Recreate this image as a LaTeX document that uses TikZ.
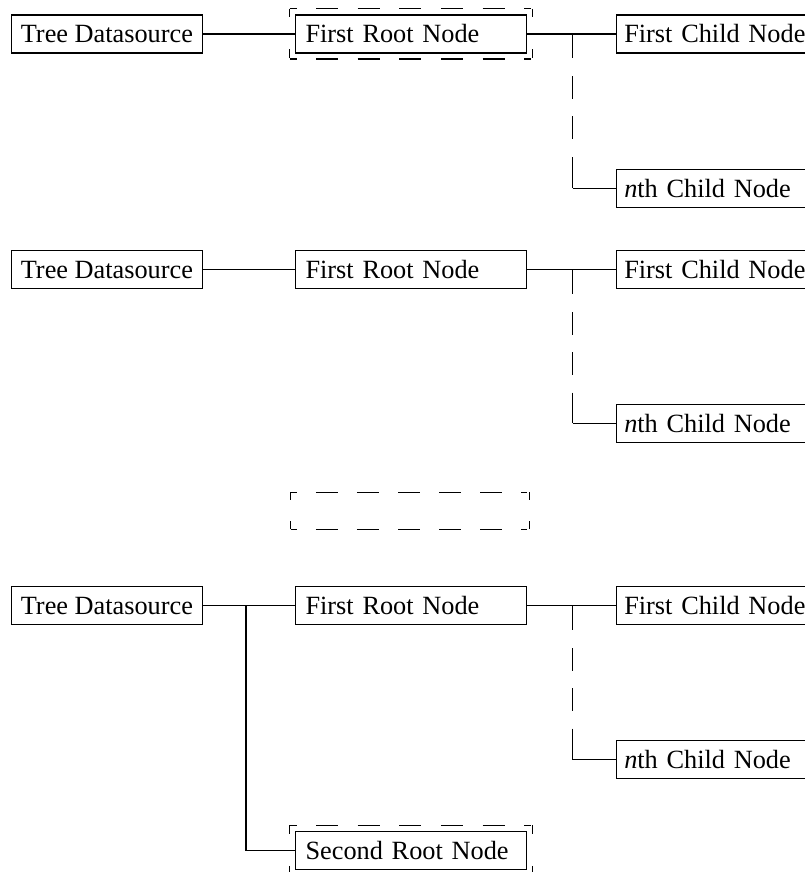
\documentclass[tikz,border=0pt]{standalone}
\usepackage{fontspec}
\setmainfont{Liberation Serif}
\usetikzlibrary{calc}
\begin{document}
\begin{tikzpicture}[x=1pt,y=-1pt,
  every node/.style={font=\fontsize{26.3}{30}\selectfont},
  box/.style={draw,line width=1.1pt,minimum height=38pt,inner ysep=0pt,inner xsep=8pt,anchor=west,text height=18pt,text depth=0pt},
  tdbox/.style={box,inner xsep=9.3pt},
  rootbox/.style={box,inner xsep=10pt,text width=210.5pt,align=left},
  childbox/.style={box,inner xsep=8pt,text width=185pt,align=left},
  conn/.style={line width=1.1pt},
  vjunc/.style={line width=1.1pt,dash pattern=on 24.5pt off 18pt on 22.5pt off 17.5pt on 22.5pt off 18pt on 100pt off 10pt},
  hframe/.style={line width=1.1pt,dash pattern=on 7pt off 19.6pt on 22pt off 19.6pt on 22pt off 19.6pt on 22pt off 19.6pt on 22pt off 19.6pt on 22pt off 19.6pt on 7pt off 100pt},
  vframe/.style={line width=1.1pt,dash pattern=on 8.5pt off 32pt on 8.5pt off 100pt},
  hsolo/.style={line width=1.1pt,dash pattern=on 6pt off 19.1pt on 22pt off 19.1pt on 22pt off 19.1pt on 22pt off 19.1pt on 22pt off 19.1pt on 22pt off 19.1pt on 6pt off 100pt},
  vsolo/.style={line width=1.1pt,dash pattern=on 8pt off 21pt on 8pt off 100pt}
]
\useasboundingbox (0,0) rectangle (804,872);

% ---------- Row 1 ----------
\node[tdbox] (td1) at (11,34) {Tree Datasource};
\node[rootbox] (r1) at (295,34) {First Root Node};
\node[childbox] (c1) at (615.7,34) {First Child Node};
\node[childbox] (n1) at (615.7,188.3) {\textit{n}th Child Node};
\coordinate (j1) at (572.5,34);
\coordinate (k1) at (572.5,188.3);
\draw[conn] (td1) -- (r1);
\draw[conn] (r1) -- (c1);
\draw[vjunc] (j1) -- (k1);
\draw[conn] (k1) -- (n1);
% frame around first root node
\coordinate (f1a) at ([xshift=-5.5pt,yshift=5.5pt]r1.north west);
\coordinate (f1b) at ([xshift=5.5pt,yshift=5.5pt]r1.north east);
\coordinate (f1c) at ([xshift=5.5pt,yshift=-5.5pt]r1.south east);
\coordinate (f1d) at ([xshift=-5.5pt,yshift=-5.5pt]r1.south west);
\draw[hframe] (f1a) -- (f1b);
\draw[hframe] (f1d) -- (f1c);
\draw[vframe] (f1a) -- (f1d);
\draw[vframe] (f1b) -- (f1c);

% ---------- Row 2 ----------
\node[tdbox] (td2) at (11,269.7) {Tree Datasource};
\node[rootbox] (r2) at (295,269.7) {First Root Node};
\node[childbox] (c2) at (615.7,269.7) {First Child Node};
\node[childbox] (n2) at (615.7,423.3) {\textit{n}th Child Node};
\coordinate (j2) at (572.5,269.7);
\coordinate (k2) at (572.5,423.3);
\draw[conn] (td2) -- (r2);
\draw[conn] (r2) -- (c2);
\draw[vjunc] (j2) -- (k2);
\draw[conn] (k2) -- (n2);

% ---------- standalone dashed box ----------
\coordinate (sa) at (290.7,492.3);
\coordinate (sb) at (529.3,492.3);
\coordinate (sc) at (529.3,529.3);
\coordinate (sd) at (290.7,529.3);
\draw[hsolo] (sa) -- (sb);
\draw[hsolo] (sd) -- (sc);
\draw[vsolo] (sa) -- (sd);
\draw[vsolo] (sb) -- (sc);

% ---------- Row 3 ----------
\node[tdbox] (td3) at (11,605.6) {Tree Datasource};
\node[rootbox] (r3) at (295,605.6) {First Root Node};
\node[childbox] (c3) at (615.7,605.6) {First Child Node};
\node[childbox] (n3) at (615.7,759.7) {\textit{n}th Child Node};
\node[rootbox] (s3) at (295,850.3) {Second Root Node};
\coordinate (j3) at (572.5,605.6);
\coordinate (k3) at (572.5,759.7);
\coordinate (b3) at (246,605.6);
\coordinate (e3) at (246,850.3);
\draw[conn] (td3) -- (r3);
\draw[conn] (r3) -- (c3);
\draw[vjunc] (j3) -- (k3);
\draw[conn] (k3) -- (n3);
\draw[conn] (b3) -- (e3) -- (s3);
% frame around second root node
\coordinate (f3a) at ([xshift=-5.5pt,yshift=5.5pt]s3.north west);
\coordinate (f3b) at ([xshift=5.5pt,yshift=5.5pt]s3.north east);
\coordinate (f3c) at ([xshift=5.5pt,yshift=-5.5pt]s3.south east);
\coordinate (f3d) at ([xshift=-5.5pt,yshift=-5.5pt]s3.south west);
\draw[hframe] (f3a) -- (f3b);
\draw[hframe] (f3d) -- (f3c);
\draw[vframe] (f3a) -- (f3d);
\draw[vframe] (f3b) -- (f3c);
\end{tikzpicture}
\end{document}
